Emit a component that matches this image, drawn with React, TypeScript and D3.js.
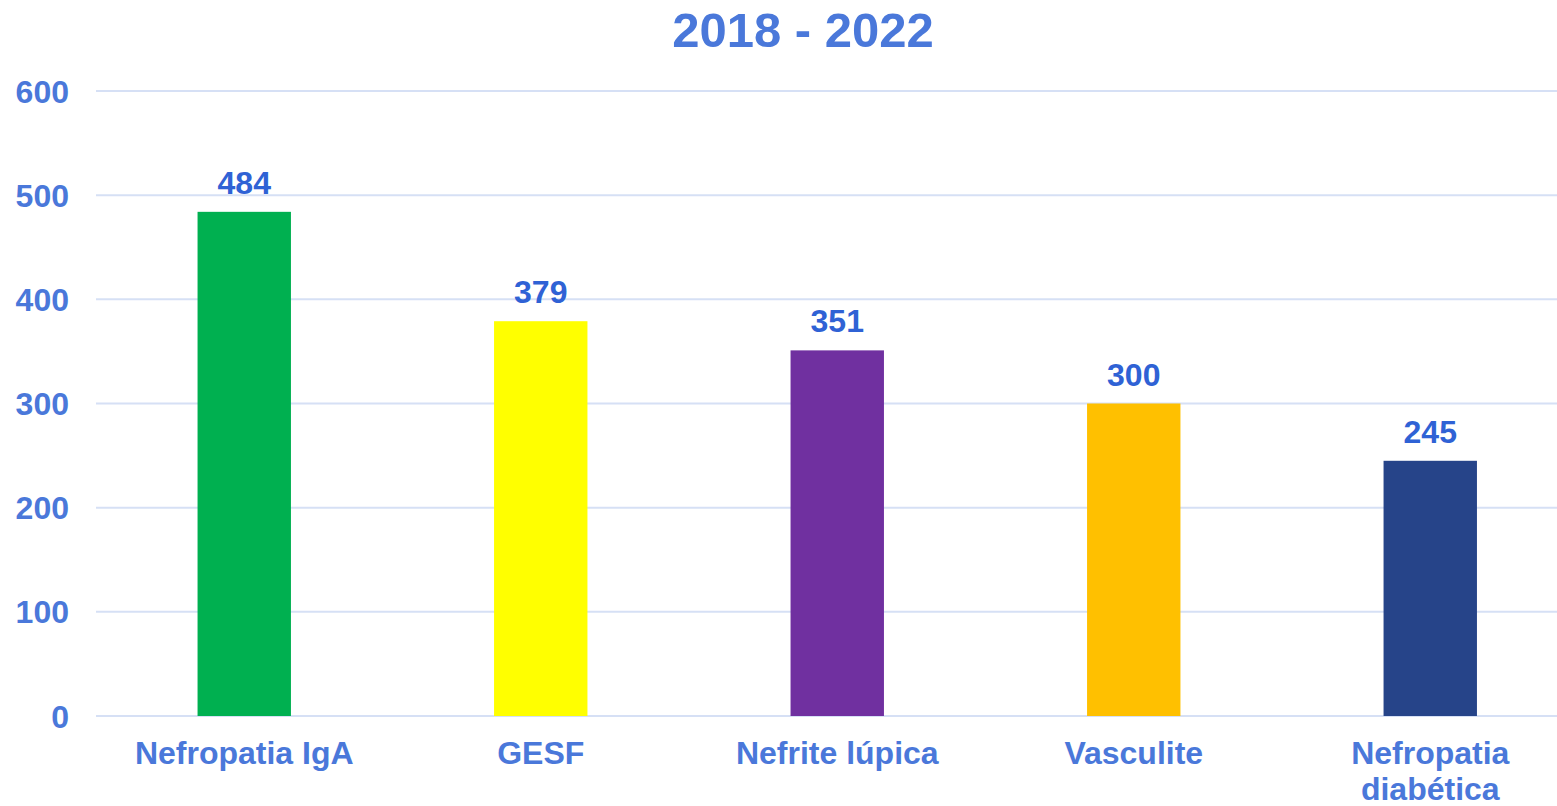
import React, { useEffect, useRef } from "react";
import * as d3 from "d3";

const categories: string[][] = [
  ["Nefropatia IgA"],
  ["GESF"],
  ["Nefrite lúpica"],
  ["Vasculite"],
  ["Nefropatia", "diabética"],
];
const values: number[] = [484, 379, 351, 300, 245];
const barColors: string[] = ["#00B050", "#FFFF00", "#7030A0", "#FFC000", "#264489"];
const yTicks: number[] = [0, 100, 200, 300, 400, 500, 600];
const title = "2018 - 2022";

const W = 1557;
const H = 806;

export default function App() {
  const ref = useRef<SVGSVGElement>(null);

  useEffect(() => {
    const svg = d3.select(ref.current);
    svg.selectAll("*").remove();
    const font = "'Liberation Sans', Arial, sans-serif";
    const axisColor = "#4A78DA";
    const labelColor = "#2F62D5";

    const x = d3
      .scaleBand<number>()
      .domain(values.map((_, i) => i))
      .range([96, 1578.5])
      .paddingInner(0)
      .paddingOuter(0);
    const y = d3.scaleLinear().domain([0, 600]).range([716, 91]);
    const barW = x.bandwidth() * 0.315;

    // title
    svg
      .append("text")
      .attr("x", 803)
      .attr("y", 47)
      .attr("text-anchor", "middle")
      .attr("font-family", font)
      .attr("font-weight", "bold")
      .attr("font-size", 49)
      .attr("fill", axisColor)
      .text(title);

    // gridlines
    svg
      .append("g")
      .selectAll("line")
      .data(yTicks)
      .join("line")
      .attr("x1", 96)
      .attr("x2", W)
      .attr("y1", (d) => y(d))
      .attr("y2", (d) => y(d))
      .attr("stroke", "#D6E0F5")
      .attr("stroke-width", 2);

    // y labels
    svg
      .append("g")
      .selectAll("text")
      .data(yTicks)
      .join("text")
      .attr("x", 69)
      .attr("y", (d) => y(d))
      .attr("dy", "0.36em")
      .attr("text-anchor", "end")
      .attr("font-family", font)
      .attr("font-weight", "bold")
      .attr("font-size", 32)
      .attr("fill", axisColor)
      .text((d) => String(d));

    // bars
    svg
      .append("g")
      .selectAll("rect")
      .data(values)
      .join("rect")
      .attr("x", (_, i) => (x(i) as number) + x.bandwidth() / 2 - barW / 2)
      .attr("y", (d) => y(d))
      .attr("width", barW)
      .attr("height", (d) => y(0) - y(d))
      .attr("fill", (_, i) => barColors[i]);

    // data labels
    svg
      .append("g")
      .selectAll("text")
      .data(values)
      .join("text")
      .attr("x", (_, i) => (x(i) as number) + x.bandwidth() / 2)
      .attr("y", (d) => y(d) - 18)
      .attr("text-anchor", "middle")
      .attr("font-family", font)
      .attr("font-weight", "bold")
      .attr("font-size", 32)
      .attr("fill", labelColor)
      .text((d) => String(d));

    // category labels
    const cat = svg
      .append("g")
      .selectAll("text")
      .data(categories)
      .join("text")
      .attr("x", (_, i) => (x(i) as number) + x.bandwidth() / 2)
      .attr("y", 764)
      .attr("text-anchor", "middle")
      .attr("font-family", font)
      .attr("font-weight", "bold")
      .attr("font-size", 32)
      .attr("fill", axisColor);
    cat.each(function (lines, i) {
      const t = d3.select(this);
      lines.forEach((ln, j) => {
        t.append("tspan")
          .attr("x", (x(i) as number) + x.bandwidth() / 2)
          .attr("y", 764 + j * 36)
          .text(ln);
      });
    });
  }, []);

  return (
    <svg
      ref={ref}
      width={W}
      height={H}
      style={{ position: "absolute", left: 0, top: 0, background: "#fff" }}
    />
  );
}
